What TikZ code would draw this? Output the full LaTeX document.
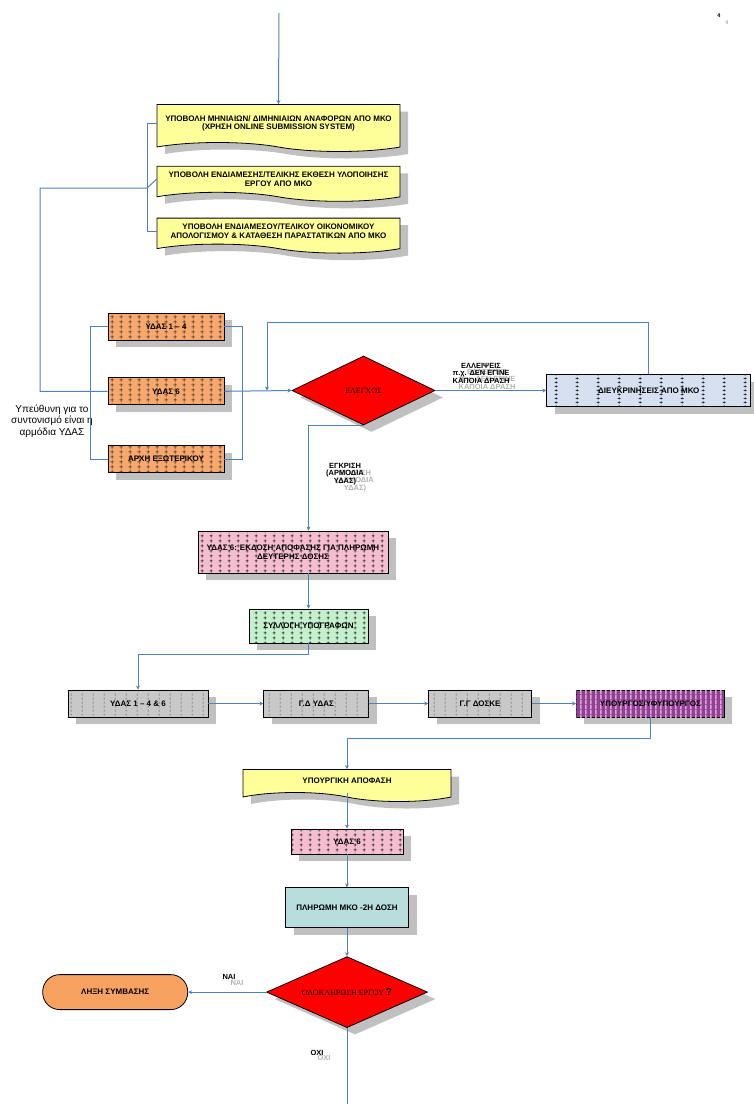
\documentclass[tikz,border=0pt]{standalone}
\usepackage{fontspec}
\setmainfont{Liberation Sans}
\newfontfamily\timesgr{Liberation Serif}
\usetikzlibrary{positioning, arrows.meta, shapes.geometric, shapes.symbols, shadows, patterns}

\definecolor{linkblue}{RGB}{79,129,189}
\definecolor{docyellow}{RGB}{255,255,153}
\definecolor{unitorange}{RGB}{248,168,108}
\definecolor{mkoblue}{RGB}{214,224,240}
\definecolor{decpink}{RGB}{245,190,208}
\definecolor{signgreen}{RGB}{196,240,206}
\definecolor{chaingray}{RGB}{200,200,200}
\definecolor{minpurple}{RGB}{150,62,150}
\definecolor{paycyan}{RGB}{183,221,221}
\definecolor{endorange}{RGB}{247,162,96}
\definecolor{shadowgray}{RGB}{192,192,192}

\pgfdeclarepatternformonly{pluses}{\pgfqpoint{0pt}{0pt}}{\pgfqpoint{9pt}{4.5pt}}{\pgfqpoint{9pt}{4.5pt}}{%
  \pgfsetlinewidth{0.5pt}%
  \pgfpathmoveto{\pgfqpoint{4.5pt}{0.5pt}}\pgfpathlineto{\pgfqpoint{4.5pt}{4pt}}%
  \pgfpathmoveto{\pgfqpoint{2.8pt}{2.25pt}}\pgfpathlineto{\pgfqpoint{6.2pt}{2.25pt}}%
  \pgfusepath{stroke}}
\pgfdeclarepatternformonly{crosslines}{\pgfqpoint{0pt}{0pt}}{\pgfqpoint{9pt}{4.5pt}}{\pgfqpoint{9pt}{4.5pt}}{%
  \pgfsetlinewidth{0.55pt}%
  \pgfpathmoveto{\pgfqpoint{4.5pt}{0pt}}\pgfpathlineto{\pgfqpoint{4.5pt}{4.5pt}}%
  \pgfpathmoveto{\pgfqpoint{2.5pt}{2.25pt}}\pgfpathlineto{\pgfqpoint{6.5pt}{2.25pt}}%
  \pgfusepath{stroke}}
\pgfdeclarepatternformonly{widepluses}{\pgfqpoint{0pt}{0pt}}{\pgfqpoint{21pt}{4pt}}{\pgfqpoint{21pt}{4pt}}{%
  \pgfsetlinewidth{0.5pt}%
  \pgfpathmoveto{\pgfqpoint{10.5pt}{0.4pt}}\pgfpathlineto{\pgfqpoint{10.5pt}{3.6pt}}%
  \pgfpathmoveto{\pgfqpoint{9pt}{2pt}}\pgfpathlineto{\pgfqpoint{12pt}{2pt}}%
  \pgfusepath{stroke}}
\pgfdeclarepatternformonly{vdashes}{\pgfqpoint{0pt}{0pt}}{\pgfqpoint{11pt}{4pt}}{\pgfqpoint{11pt}{4pt}}{%
  \pgfsetlinewidth{0.5pt}%
  \pgfpathmoveto{\pgfqpoint{5.5pt}{0.5pt}}\pgfpathlineto{\pgfqpoint{5.5pt}{3pt}}%
  \pgfusepath{stroke}}
\pgfdeclarepatternformonly{vstripes}{\pgfqpoint{0pt}{0pt}}{\pgfqpoint{5pt}{5pt}}{\pgfqpoint{5pt}{5pt}}{%
  \pgfpathrectangle{\pgfqpoint{0pt}{0pt}}{\pgfqpoint{2pt}{5pt}}%
  \pgfusepath{fill}}

\begin{document}
\begin{tikzpicture}[x=1pt, y=-1pt,
                node distance=20pt and 55pt,
                boxfont/.style={font=\fontsize{8}{8.5}\selectfont\bfseries, align=center},
                shade box/.style={drop shadow={shadow xshift=8pt, shadow yshift=-7pt, fill=shadowgray, opacity=1}},
                docbox/.style={shape=tape, tape bend top=none, tape bend bottom=out and in,
                  tape bend height=9pt, draw, line width=0.8pt, fill=docyellow, shade box, boxfont, inner sep=2pt},
                unit/.style={draw, line width=0.8pt, shade box, boxfont, inner sep=1pt},
                orangebox/.style={unit, fill=unitorange, postaction={pattern=crosslines, pattern color=black!85},
                  minimum width=116pt, minimum height=27pt},
                mkobox/.style={unit, fill=mkoblue, postaction={pattern=widepluses, pattern color=black}},
                decbox/.style={unit, fill=decpink, postaction={pattern=pluses, pattern color=black}},
                signbox/.style={unit, fill=signgreen, postaction={pattern=pluses, pattern color=black}},
                chainbox/.style={unit, fill=chaingray, postaction={pattern=vdashes, pattern color=black!70},
                  minimum height=27pt},
                minbox/.style={unit, fill=minpurple, postaction={pattern=vstripes, pattern color=white!55!minpurple},
                  minimum height=27pt},
                paybox/.style={unit, fill=paycyan},
                check/.style={diamond, draw, line width=0.8pt, fill=red, shade box, aspect=2, inner sep=0pt,
                  font=\timesgr\fontsize{8}{8.5}\selectfont},
                endbox/.style={draw, line width=0.8pt, fill=endorange, rounded corners=17pt, boxfont},
                lbl/.style={font=\fontsize{7.5}{7.5}\selectfont\bfseries, align=center, inner sep=0pt},
                ghost/.style={lbl, text=black!30},
                link/.style={draw=linkblue, line width=1pt},
                arrow/.style={link, -{Stealth[length=4pt, width=4pt]}}
              ]
              \useasboundingbox (0,0) rectangle (754,1104);

              % submissions
              \node (D1) [docbox, minimum width=243pt, minimum height=47pt] at (278.5,123.5)
                {ΥΠΟΒΟΛΗ ΜΗΝΙΑΙΩΝ/ ΔΙΜΗΝΙΑΙΩΝ ΑΝΑΦΟΡΩΝ ΑΠΟ ΜΚΟ\\(ΧΡΗΣΗ ONLINE SUBMISSION SYSTEM)};
              \node (D2) [docbox, minimum width=243pt, minimum height=35pt, below=23pt of D1]
                {ΥΠΟΒΟΛΗ ΕΝΔΙΑΜΕΣΗΣ/ΤΕΛΙΚΗΣ ΕΚΘΕΣΗ ΥΛΟΠΟΙΗΣΗΣ\\ΕΡΓΟΥ ΑΠΟ ΜΚΟ};
              \node (D3) [docbox, minimum width=243pt, minimum height=35pt, below=25pt of D2]
                {ΥΠΟΒΟΛΗ ΕΝΔΙΑΜΕΣΟΥ/ΤΕΛΙΚΟΥ ΟΙΚΟΝΟΜΙΚΟΥ\\ΑΠΟΛΟΓΙΣΜΟΥ \& ΚΑΤΑΘΕΣΗ ΠΑΡΑΣΤΑΤΙΚΩΝ ΑΠΟ ΜΚΟ};

              % services
              \node (O1) [orangebox] at (166,326.5) {ΥΔΑΣ 1 – 4};
              \node (O2) [orangebox, below=37pt of O1] {ΥΔΑΣ 6};
              \node (O3) [orangebox, below=40pt of O2] {ΑΡΧΗ ΕΞΩΤΕΡΙΚΟΥ};
              \node (note) [align=center, font=\fontsize{10}{11.5}\selectfont, inner sep=0pt] at (52,421)
                {Υπεύθυνη για το\\συντονισμό είναι η\\αρμόδια ΥΔΑΣ};

              \node (C) [check, minimum width=143pt, minimum height=69pt] at (363.5,390.5) {ΕΛΕΓΧΟΣ};
              \node (Q) [mkobox, minimum width=204pt, minimum height=32pt, right=111pt of C] {ΔΙΕΥΚΡΙΝΗΣΕΙΣ ΑΠΟ ΜΚΟ};

              \node (P) [decbox, minimum width=190pt, minimum height=42pt] at (293,552)
                {ΥΔΑΣ 6: ΕΚΔΟΣΗ ΑΠΟΦΑΣΗΣ ΓΙΑ ΠΛΗΡΩΜΗ\\ΔΕΥΤΕΡΗΣ ΔΟΣΗΣ};
              \node (S) [signbox, minimum width=119pt, minimum height=34pt] at (308.5,626) {ΣΥΛΛΟΓΗ ΥΠΟΓΡΑΦΩΝ};

              % signatures
              \node (R1) [chainbox, minimum width=140pt] at (138,703.5) {ΥΔΑΣ 1 – 4 \& 6};
              \node (R2) [chainbox, minimum width=105pt, right=55pt of R1] {Γ.Δ ΥΔΑΣ};
              \node (R3) [chainbox, minimum width=103pt, right=59pt of R2] {Γ.Γ ΔΟΣΚΕ};
              \node (R4) [minbox, minimum width=148pt, right=44pt of R3] {ΥΠΟΥΡΓΟΣ/ΥΦΥΠΟΥΡΓΟΣ};

              \node (M) [docbox, minimum width=208pt, minimum height=32pt] at (347,781) {ΥΠΟΥΡΓΙΚΗ ΑΠΟΦΑΣΗ};
              \node (P6) [decbox, minimum width=112pt, minimum height=25pt] at (347,841.5) {ΥΔΑΣ 6};
              \node (Pay) [paybox, minimum width=123pt, minimum height=40pt, below=33pt of P6] {ΠΛΗΡΩΜΗ ΜΚΟ -2Η ΔΟΣΗ};
              \node (E) [check, minimum width=161pt, minimum height=71pt, below=28pt of Pay]
                {ΟΛΟΚΛΗΡΩΣΗ ΕΡΓΟΥ {\rmfamily\bfseries\fontsize{10}{10}\selectfont ?}};
              \node (T) [endbox, minimum width=145pt, minimum height=35pt, left=78pt of E] {ΛΗΞΗ ΣΥΜΒΑΣΗΣ};

              % labels
              \node (lackG) [ghost] at (487,379) {ΕΛΛΕΙΨΕΙΣ\\π.χ. ΔΕΝ ΕΓΙΝΕ\\ΚΑΠΟΙΑ ΔΡΑΣΗ};
              \node (lack) [lbl] at (481,373) {ΕΛΛΕΙΨΕΙΣ\\π.χ. ΔΕΝ ΕΓΙΝΕ\\ΚΑΠΟΙΑ ΔΡΑΣΗ};
              \node (okG) [ghost] at (355,481) {ΕΓΚΡΙΣΗ\\(ΑΡΜΟΔΙΑ\\ΥΔΑΣ)};
              \node (ok) [lbl] at (345,474) {ΕΓΚΡΙΣΗ\\(ΑΡΜΟΔΙΑ\\ΥΔΑΣ)};
              \node (yesG) [ghost] at (237,983) {ΝΑΙ};
              \node (yes) [lbl] at (229,977) {ΝΑΙ};
              \node (noG) [ghost] at (324,1058) {ΟΧΙ};
              \node (no) [lbl] at (317,1053) {ΟΧΙ};
              \node (pgG) [ghost, font=\fontsize{5.5}{5.5}\selectfont\bfseries] at (727,23) {4};
              \node (pg) [lbl, font=\fontsize{5.5}{5.5}\selectfont\bfseries] at (719,16) {4};

              \coordinate (top) at (279,13);
              \coordinate (lb) at (147,188);
              \coordinate (far) at (40,188);
              \coordinate (J) at (267,390.5);
              \coordinate (bottom) at (347,1104);

              % Draw arrows
              \draw[arrow] (top) -- (D1.north);
              \draw[link] (D1.west) -| (lb |- D3.west) -- (D3.west);
              \draw[link] (D2.west) -- (lb) -- (far) |- (O2.west);
              \draw[link] (O1.west) -- ++(-17,0) |- (O3.west);
              \draw[link] (O1.east) -- ++(18,0) |- (O3.east);
              \draw[arrow] (O2.east) -- (C.west);
              \draw[arrow] (C.east) -- (Q.west);
              \draw[arrow] (Q.north) -- ++(0,-52) -| (J);
              \draw[arrow] (C.south) -| (S.north |- P.north);
              \draw[arrow] (S.north |- P.south) -- (S.north);
              \draw[arrow] (S.south) -- ++(0,11) -| (R1.north);
              \draw[arrow] (R1) -- (R2);
              \draw[arrow] (R2) -- (R3);
              \draw[arrow] (R3) -- (R4);
              \draw[arrow] (R4.south) -- ++(0,21) -| (M.north);
              \draw[arrow] (M.south) -- (P6.north);
              \draw[arrow] (P6) -- (Pay);
              \draw[arrow] (Pay) -- (E);
              \draw[arrow] (E.west) -- (T.east);
              \draw[link] (E.south) -- (bottom);

            \end{tikzpicture}
\end{document}
